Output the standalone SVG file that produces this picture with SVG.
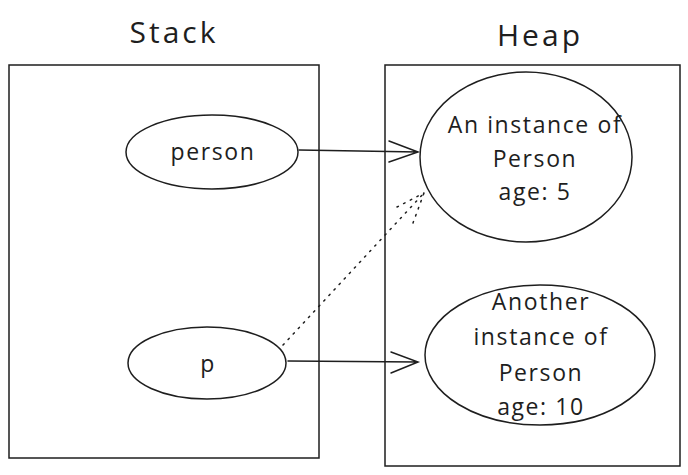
<svg xmlns="http://www.w3.org/2000/svg" width="688" height="475" viewBox="0 0 688 475">
<style>
.box{fill:none;stroke:#1e1e1e;stroke-width:1.5}
.el{fill:#fff;stroke:#1e1e1e;stroke-width:1.5}
.t{font-family:"Comic Sans MS","Open Sans",sans-serif;fill:#1e1e1e;text-anchor:middle}
.title{font-size:30px;letter-spacing:3px}
.lbl{font-size:23px;letter-spacing:1.6px}
.ln{fill:none;stroke:#1e1e1e;stroke-width:1.5;stroke-linecap:round}
.dot{fill:none;stroke:#1e1e1e;stroke-width:1.5;stroke-dasharray:1.5 6;stroke-linecap:round}
</style>
<rect width="688" height="475" fill="#fff"/>
<g id="stack">
<rect class="box" x="9" y="65" width="310" height="393"/>
<text class="t title" x="174" y="43">Stack</text>
</g>
<g id="heap">
<rect class="box" x="385" y="65" width="295" height="401"/>
<text class="t title" x="540" y="46">Heap</text>
</g>
<g id="person">
<ellipse class="el" cx="212" cy="152" rx="86" ry="37"/>
<text class="t lbl" x="213" y="160">person</text>
</g>
<g id="p">
<ellipse class="el" cx="207" cy="363" rx="79" ry="36"/>
<text class="t lbl" x="208" y="372">p</text>
</g>
<g id="instance1">
<ellipse class="el" cx="526" cy="157" rx="106" ry="85"/>
<text class="t lbl" x="535" y="133">An instance of</text>
<text class="t lbl" x="535" y="167">Person</text>
<text class="t lbl" x="535" y="200">age: 5</text>
</g>
<g id="instance2">
<ellipse class="el" cx="540" cy="355" rx="115" ry="70"/>
<text class="t lbl" x="541" y="310">Another</text>
<text class="t lbl" x="541" y="345">instance of</text>
<text class="t lbl" x="541" y="381">Person</text>
<text class="t lbl" x="541" y="415">age: 10</text>
</g>
<g id="connectors">
<path class="ln" d="M299 150 L418 152 M389 141 L418 152 L389 162"/>
<path class="ln" d="M288 361 L418 362 M391 352 L418 362 L391 373"/>
<path class="dot" d="M283 345 L424 193 M397 207 L424 193 M413 223 L424 193"/>
</g>
</svg>
